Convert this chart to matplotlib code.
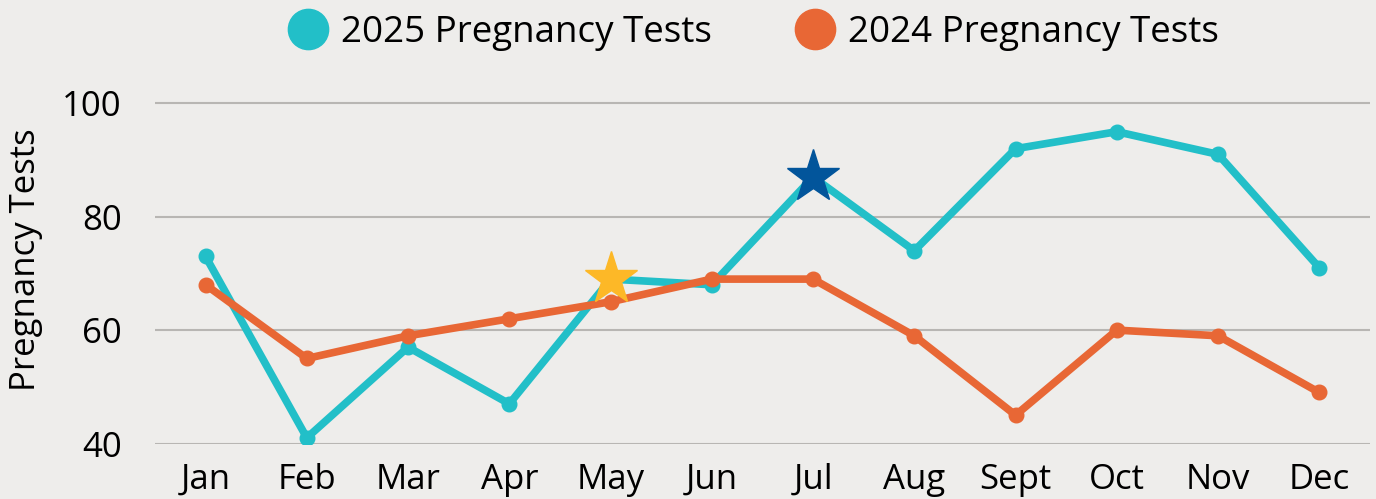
import matplotlib
matplotlib.use("Agg")
import matplotlib.pyplot as plt
from matplotlib.lines import Line2D

months = ["Jan", "Feb", "Mar", "Apr", "May", "Jun", "Jul", "Aug", "Sept", "Oct", "Nov", "Dec"]
tests_2025 = [73, 41, 57, 47, 69, 68, 87, 74, 92, 95, 91, 71]
tests_2024 = [68, 55, 59, 62, 65, 69, 69, 59, 45, 60, 59, 49]
star_yellow_idx = 4   # May 2025
star_blue_idx = 6     # Jul 2025

BG = "#EEEDEB"
CYAN = "#22BFC8"
ORANGE = "#E86735"
YELLOW = "#FDB827"
BLUE = "#02559B"

plt.rcParams['font.family'] = ['Open Sans', 'DejaVu Sans']
FS = 25

fig = plt.figure(figsize=(13.76, 4.99), dpi=100, facecolor=BG)
ax = fig.add_axes([0.1126, 0.1112, 0.883, 0.7385], facecolor=BG)

x = list(range(len(months)))
ax.plot(x, tests_2025, color=CYAN, lw=5.5, marker='o', ms=10.5, zorder=3, solid_capstyle='round')
ax.plot(x, tests_2024, color=ORANGE, lw=5.5, marker='o', ms=10.5, zorder=4, solid_capstyle='round')
ax.plot([x[star_yellow_idx]], [tests_2025[star_yellow_idx]], marker='*', ms=40, color=YELLOW,
        ls='none', zorder=5)
ax.plot([x[star_blue_idx]], [tests_2025[star_blue_idx]], marker='*', ms=40, color=BLUE,
        ls='none', zorder=5)

ax.set_xlim(-0.5, len(months) - 0.5)
ax.set_ylim(40, 105)
ax.set_yticks([40, 60, 80, 100])
ax.set_xticks(x)
ax.set_xticklabels(months)
ax.grid(axis='y', color='#B8B6B3', lw=1.5)
ax.set_axisbelow(True)
for s in ax.spines.values():
    s.set_visible(False)
ax.tick_params(axis='both', length=0, labelsize=FS, colors='black')
ax.tick_params(axis='x', pad=14)
ax.tick_params(axis='y', pad=24)
ax.set_ylabel("Pregnancy Tests", fontsize=FS, labelpad=14)

handles = [
    Line2D([], [], marker='o', ls='none', color=CYAN, ms=29),
    Line2D([], [], marker='o', ls='none', color=ORANGE, ms=29),
]
fig.legend(handles, ["2025 Pregnancy Tests", "2024 Pregnancy Tests"], loc='upper center',
           bbox_to_anchor=(0.547, 1.037), ncol=2, frameon=False, fontsize=26.5,
           handlelength=1.2, handletextpad=0.3, columnspacing=2.2)

fig.savefig("out.png", dpi=100, facecolor=BG)
